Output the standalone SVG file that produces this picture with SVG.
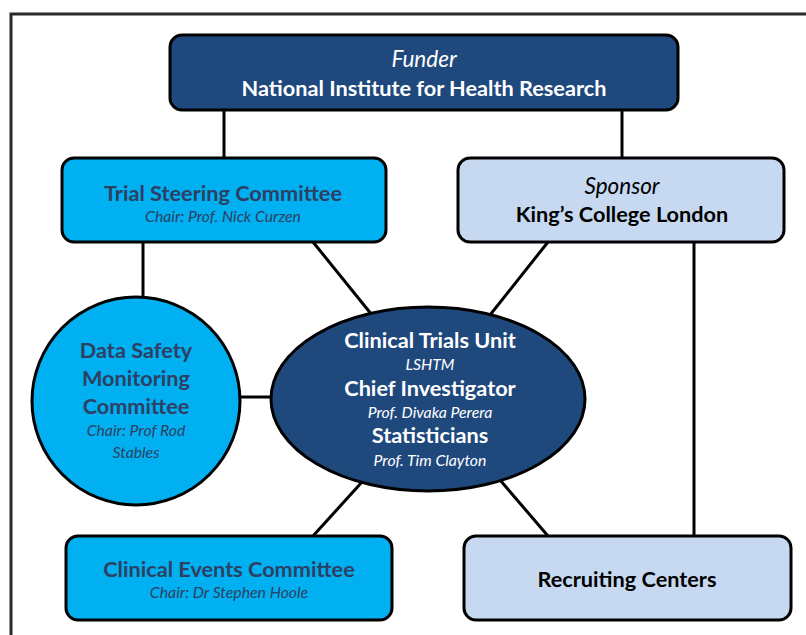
<svg xmlns="http://www.w3.org/2000/svg" width="806" height="635" viewBox="0 0 806 635">
  <style>
    .box { stroke: #000; stroke-width: 3; }
    .dark { fill: #1f497d; }
    .cyan { fill: #00b0f0; }
    .pale { fill: #c6d9f1; }
    .link { stroke: #000; stroke-width: 3; fill: none; }
    text { font-family: "Lato", "Liberation Sans", sans-serif; text-anchor: middle; }
    .b { font-weight: bold; font-size: 21.7px; }
    .i { font-style: italic; font-size: 15.8px; }
    .h { font-style: italic; font-size: 22.5px; }
    .w { fill: #ffffff; }
    .n { fill: #2e3f63; }
    .k { fill: #000000; }
  </style>

  <!-- page frame -->
  <path d="M11 635 V14 H806" fill="none" stroke="#2a2a2a" stroke-width="3"/>

  <g id="connectors">
    <line class="link" x1="224" y1="110" x2="224" y2="158"/>
    <line class="link" x1="622" y1="110" x2="622" y2="158"/>
    <line class="link" x1="143" y1="242" x2="143" y2="298"/>
    <line class="link" x1="313" y1="242" x2="372" y2="315"/>
    <line class="link" x1="548" y1="242" x2="490" y2="315"/>
    <line class="link" x1="240" y1="397" x2="272" y2="397"/>
    <line class="link" x1="362" y1="482" x2="313" y2="536"/>
    <line class="link" x1="500" y1="480" x2="548" y2="536"/>
    <line class="link" x1="694" y1="242" x2="694" y2="536"/>
  </g>

  <g id="funder">
    <rect class="box dark" x="170" y="35" width="508" height="75" rx="12"/>
    <text class="h w" x="424" y="67">Funder</text>
    <text class="b w" x="424" y="96">National Institute for Health Research</text>
  </g>

  <g id="steering">
    <rect class="box cyan" x="62" y="158" width="324" height="84" rx="12"/>
    <text class="b n" x="223" y="201">Trial Steering Committee</text>
    <text class="i n" x="223" y="222">Chair: Prof. Nick Curzen</text>
  </g>

  <g id="sponsor">
    <rect class="box pale" x="458" y="158" width="326" height="84" rx="12"/>
    <text class="h k" x="622" y="194">Sponsor</text>
    <text class="b k" x="622" y="222">King’s College London</text>
  </g>

  <g id="dsmc">
    <circle class="box cyan" cx="136" cy="401" r="104"/>
    <text class="b n" x="136" y="358">Data Safety</text>
    <text class="b n" x="136" y="386">Monitoring</text>
    <text class="b n" x="136" y="414">Committee</text>
    <text class="i n" x="136" y="436">Chair: Prof Rod</text>
    <text class="i n" x="136" y="458">Stables</text>
  </g>

  <g id="ctu">
    <ellipse class="box dark" cx="428" cy="399" rx="157" ry="92"/>
    <text class="b w" x="430" y="348">Clinical Trials Unit</text>
    <text class="i w" x="430" y="370">LSHTM</text>
    <text class="b w" x="430" y="396">Chief Investigator</text>
    <text class="i w" x="430" y="418">Prof. Divaka Perera</text>
    <text class="b w" x="430" y="443">Statisticians</text>
    <text class="i w" x="430" y="466">Prof. Tim Clayton</text>
  </g>

  <g id="events">
    <rect class="box cyan" x="66" y="536" width="326" height="84" rx="12"/>
    <text class="b n" x="229" y="577">Clinical Events Committee</text>
    <text class="i n" x="229" y="598">Chair: Dr Stephen Hoole</text>
  </g>

  <g id="centers">
    <rect class="box pale" x="464" y="536" width="327" height="84" rx="12"/>
    <text class="b k" x="627" y="587">Recruiting Centers</text>
  </g>
</svg>
